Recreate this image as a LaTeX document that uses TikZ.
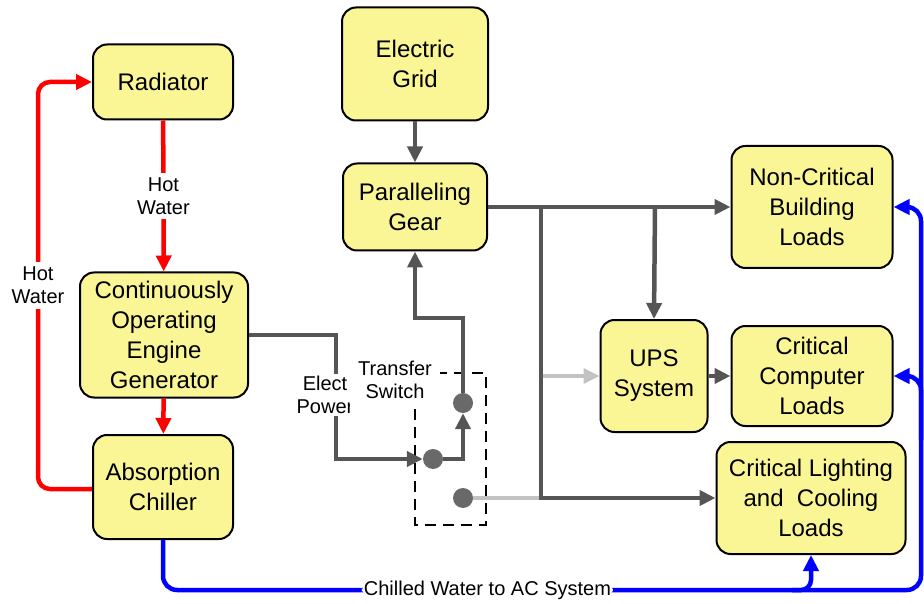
\documentclass[tikz,border=0pt]{standalone}
\usepackage{fontspec}
\setmainfont{Liberation Sans}
\usetikzlibrary{arrows.meta}
\definecolor{boxyellow}{RGB}{250,246,150}
\definecolor{wire}{RGB}{85,85,85}
\definecolor{spare}{RGB}{195,195,195}
\definecolor{contact}{RGB}{105,105,105}

\begin{document}
\begin{tikzpicture}[x=1pt,y=-1pt,
    blk/.style={draw,line width=2pt,rounded corners=14pt,fill=boxyellow,inner sep=0pt,align=center,font=\fontsize{24}{30}\selectfont},
    lbl/.style={fill=white,inner xsep=2pt,inner ysep=5pt,align=center,font=\fontsize{20}{23}\selectfont},
    tip/.style={-{Triangle[length=16pt,width=15pt]}},
    pw/.style={draw=wire,line width=4.5pt},
    hw/.style={draw=red,line width=4.5pt},
    cw/.style={draw=blue,line width=4.5pt},
    pin/.style={circle,fill=contact,minimum size=20pt,inner sep=0pt}]
  \useasboundingbox (0,0) rectangle (924,604);

  % blocks
  \node[blk,minimum width=140pt,minimum height=75pt] (rad) at (163,82) {Radiator};
  \node[blk,minimum width=146pt,minimum height=113pt] (grid) at (415,64) {Electric\\Grid};
  \node[blk,minimum width=144pt,minimum height=87pt] (gear) at (415,207) {Paralleling\\Gear};
  \node[blk,minimum width=168pt,minimum height=125pt] (gen) at (164,335) {Continuously\\Operating\\Engine\\Generator};
  \node[blk,minimum width=140pt,minimum height=104pt] (chill) at (163,487) {Absorption\\Chiller};
  \node[blk,minimum width=161pt,minimum height=122pt] (noncrit) at (812,207) {Non-Critical\\Building\\Loads};
  \node[blk,minimum width=107pt,minimum height=112pt] (ups) at (654,376) {UPS\\System};
  \node[blk,minimum width=161pt,minimum height=100pt] (comp) at (812,376) {Critical\\Computer\\Loads};
  \node[blk,minimum width=189pt,minimum height=112pt] (light) at (811,498) {Critical Lighting\\and~ Cooling\\Loads};

  % transfer switch
  \draw[line width=2pt,dash pattern=on 11pt off 7pt] (415,373) rectangle (486,525);
  \node[pin] (c1) at (433,459) {};
  \node[pin] (c2) at (463,403) {};
  \node[pin] (c3) at (463,498) {};

  \coordinate (elbow) at (336,459);
  \coordinate (bend) at (463,318);
  \coordinate (j1) at (541,207);
  \coordinate (j2) at (655,207);

  % standby feed
  \draw[spare,line width=3.5pt] (c3.east) -- (c3 -| j1);
  \draw[spare,line width=3.5pt,tip] (j1 |- ups.west) -- (ups.west);

  % power
  \draw[pw,tip] (grid) -- (gear);
  \draw[pw,tip] (gen.east) -| (elbow) -- (c1.west);
  \draw[pw,tip] (c1.east) -| (c2.south);
  \draw[pw,tip] (c2.north) -- (bend) -| (gear.south);
  \draw[pw,tip] (gear.east) -- (noncrit.west);
  \draw[pw,tip] (j1) |- (light.west);
  \draw[pw,tip] (j2) -- (ups.north);
  \draw[pw,tip] (ups.east) -- (comp.west);

  \node[lbl,inner ysep=2pt] (elec) at (325,395) {Elect\\Power};
  \node[lbl,inner sep=8pt] (ts) at (395,380) {Transfer\\Switch};

  % hot water loop
  \coordinate (lo) at (38,489);
  \coordinate (hi) at (38,82);
  \draw[hw,tip] (rad) -- node[lbl]{Hot\\Water} (gen);
  \draw[hw,tip] (gen) -- (chill);
  \draw[hw,tip,rounded corners=12pt] (chill.west |- lo) -- (lo) -- node[lbl]{Hot\\Water} (hi) -- (rad.west);

  % chilled water
  \coordinate (ret) at (921,590);
  \coordinate (tap1) at (921,440);
  \coordinate (tap2) at (792,590);
  \draw[cw,tip,rounded corners=14pt] (chill.south) |- node[lbl,inner ysep=1pt,pos=0.714]{Chilled Water to AC System} (ret) |- (noncrit.east);
  \draw[cw,tip,rounded corners=14pt] (tap1) |- (comp.east);
  \draw[cw,tip,rounded corners=10pt] (tap2) -| (light.south);
\end{tikzpicture}
\end{document}
